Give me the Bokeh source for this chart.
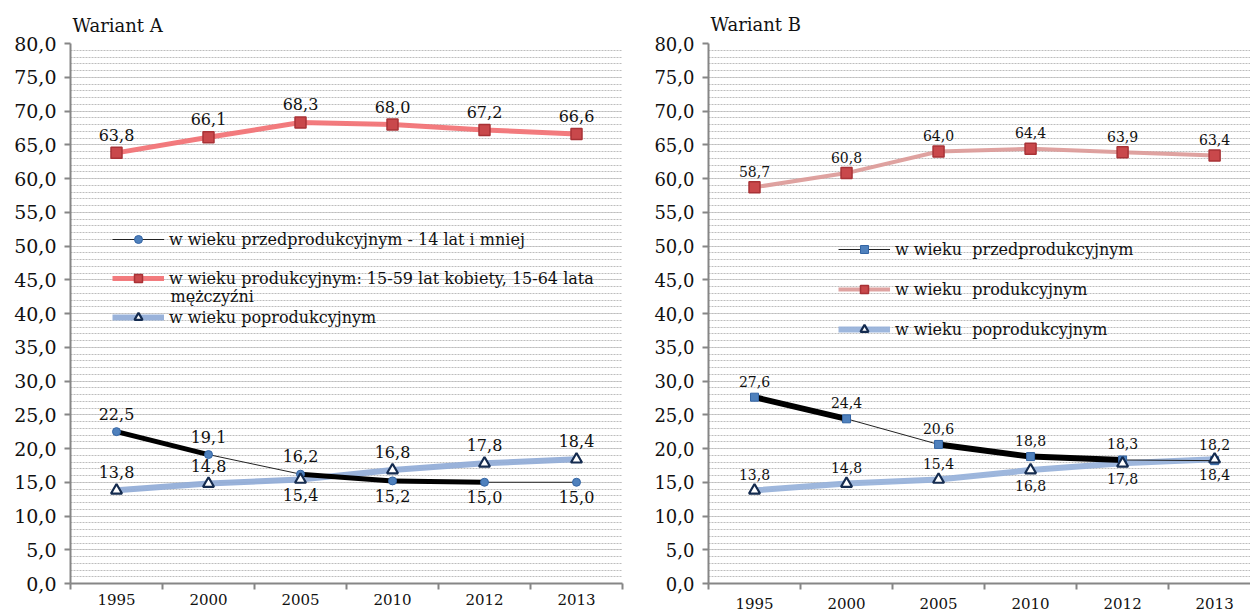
from bokeh.plotting import figure
from bokeh.models import ColumnDataSource, FixedTicker, Legend, LegendItem, Label, Range1d
from bokeh.layouts import row
from bokeh.core.properties import value
from bokeh.embed import file_html
from bokeh.resources import INLINE

# ---------------- data ----------------
years = ["1995", "2000", "2005", "2010", "2012", "2013"]

a_pre = [22.5, 19.1, 16.2, 15.2, 15.0, 15.0]
a_prod = [63.8, 66.1, 68.3, 68.0, 67.2, 66.6]
a_post = [13.8, 14.8, 15.4, 16.8, 17.8, 18.4]

b_pre = [27.6, 24.4, 20.6, 18.8, 18.3, 18.2]
b_prod = [58.7, 60.8, 64.0, 64.4, 63.9, 63.4]
b_post = [13.8, 14.8, 15.4, 16.8, 17.8, 18.4]

y_ticks = [0, 5, 10, 15, 20, 25, 30, 35, 40, 45, 50, 55, 60, 65, 70, 75, 80]

a_names = ["w wieku przedprodukcyjnym - 14 lat i mniej",
           "w wieku produkcyjnym: 15-59 lat kobiety, 15-64 lata",
           "w wieku poprodukcyjnym"]
a_name_cont = "mężczyźni"
b_names = ["w wieku  przedprodukcyjnym",
           "w wieku  produkcyjnym",
           "w wieku  poprodukcyjnym"]

FONT = "DejaVu Serif"


def fmt(v):
    return f"{v:.1f}".replace(".", ",")


def make_panel(title, pre, prod, post, names, cfg):
    xs = list(range(len(years)))
    p = figure(width=cfg["width"], height=612,
               x_range=Range1d(-0.5, cfg["xend"]), y_range=Range1d(0, 80),
               output_backend="svg", toolbar_location=None,
               min_border_left=cfg["bl"], min_border_right=cfg["br"],
               min_border_top=cfg["bt"], min_border_bottom=cfg["bb"])
    p.outline_line_color = None
    p.background_fill_color = "white"
    p.border_fill_color = "white"

    p.title.text = title
    p.title.text_font = FONT
    p.title.text_font_size = "18px"
    p.title.text_font_style = "normal"
    p.title.text_color = "#111111"
    p.title.align = "left"
    p.title.offset = 2
    p.title.standoff = cfg["tstand"]

    # axes
    xa = p.xaxis[0]
    xa.ticker = FixedTicker(ticks=xs, minor_ticks=[i - 0.5 for i in range(len(years) + 1)])
    xa.major_label_overrides = {i: y for i, y in enumerate(years)}
    xa.major_tick_out = 0
    xa.major_tick_in = 0
    xa.minor_tick_out = 6
    xa.minor_tick_in = 0
    xa.minor_tick_line_color = "#868686"
    xa.minor_tick_line_width = 2
    xa.axis_line_color = "#868686"
    xa.axis_line_width = 2
    xa.major_label_standoff = cfg["xstand"]
    xa.major_label_text_font = FONT
    xa.major_label_text_font_size = "15px"
    xa.major_label_text_color = "#111111"

    ya = p.yaxis[0]
    ya.ticker = FixedTicker(ticks=y_ticks, minor_ticks=list(range(0, 81)))
    ya.major_label_overrides = {t: fmt(t) for t in y_ticks}
    ya.major_tick_out = 6
    ya.major_tick_in = 0
    ya.minor_tick_out = 0
    ya.minor_tick_in = 0
    ya.major_tick_line_color = "#868686"
    ya.major_tick_line_width = 2
    ya.axis_line_color = "#868686"
    ya.axis_line_width = 2
    ya.major_label_standoff = 8
    ya.major_label_text_font = FONT
    ya.major_label_text_font_size = cfg["yfs"]
    ya.major_label_text_color = "#111111"

    p.xgrid.visible = False
    p.ygrid.grid_line_color = "#bdbdbd"
    p.ygrid.grid_line_dash = "2 1"
    p.ygrid.grid_line_width = 1
    p.ygrid.minor_grid_line_color = "#bdbdbd"
    p.ygrid.minor_grid_line_dash = "2 1"
    p.ygrid.minor_grid_line_width = 1

    # lines
    r_post_line = p.line(xs, post, line_color=cfg["blue_line"], line_width=6, line_alpha=0.9)
    r_pre_line = p.line(xs, pre, line_color="#222222", line_width=1)
    thick = [0, 1, 2, 3]
    w = cfg["thick"]
    p.segment(x0=[xs[i] for i in thick], y0=[pre[i] for i in thick],
              x1=[xs[i + 1] for i in thick], y1=[pre[i + 1] for i in thick],
              line_color="black", line_width=[w, 0, w, w])
    r_prod_line = p.line(xs, prod, line_color=cfg["red_line"], line_width=cfg["red_w"], line_alpha=0.9)

    # markers
    r_prod_m = p.scatter(xs, prod, marker="square", size=11, fill_color="#c9484b",
                         line_color="#a83236", line_width=1.5)
    r_pre_m = p.scatter(xs, pre, marker=cfg["pre_marker"], size=cfg["pre_size"],
                        fill_color="#4f81bd", line_color="#3465a4", line_width=1)
    r_post_m = p.scatter(xs, post, marker="triangle", size=11, fill_color="white",
                         line_color="#142b4f", line_width=2.2)

    # data labels
    def labels(vals, pos, fs):
        up = [i for i in range(len(vals)) if pos[i] == "a"]
        dn = [i for i in range(len(vals)) if pos[i] == "b"]
        for idx, off in ((up, cfg["off_up"]), (dn, cfg["off_dn"])):
            if not idx:
                continue
            src = ColumnDataSource(dict(x=[xs[i] for i in idx], y=[vals[i] for i in idx],
                                        t=[fmt(vals[i]) for i in idx]))
            p.text(x="x", y="y", text="t", source=src, text_align="center",
                   text_baseline="middle", y_offset=off, text_font=value(FONT),
                   text_font_size=fs, text_color="#111111")

    labels(prod, cfg["prod_pos"], cfg["dfs"])
    labels(pre, cfg["pre_pos"], cfg["dfs"])
    labels(post, cfg["post_pos"], cfg["dfs"])

    legend = Legend(items=[
        LegendItem(label=names[0], renderers=[r_pre_line, r_pre_m]),
        LegendItem(label=names[1], renderers=[r_prod_line, r_prod_m]),
        LegendItem(label=names[2], renderers=[r_post_line, r_post_m]),
    ], location=cfg["leg_loc"])
    legend.background_fill_alpha = 0
    legend.border_line_color = None
    legend.padding = 0
    legend.margin = 0
    legend.spacing = cfg["leg_spacing"]
    legend.glyph_width = 52
    legend.glyph_height = 20
    legend.label_height = 20
    legend.label_standoff = 5
    legend.label_text_font = FONT
    legend.label_text_font_size = cfg["lfs"]
    legend.label_text_color = "#111111"
    p.add_layout(legend)
    return p


cfg_a = dict(width=638, xend=5.5, bl=70, br=16, bt=43, bb=27, xstand=4, tstand=16,
             yfs="19px", dfs="16px", lfs="16px", thick=5,
             off_up=-18, off_dn=15,
             blue_line="#8eaad6", red_line="#f26d70", red_w=5,
             pre_marker="circle", pre_size=8,
             prod_pos=["a"] * 6, pre_pos=["a", "a", "a", "b", "b", "b"],
             post_pos=["a", "a", "b", "a", "a", "a"],
             leg_loc=(42, 256), leg_spacing=19)
cfg_b = dict(width=612, xend=5.39, bl=70, br=0, bt=40, bb=29, xstand=8, tstand=17,
             yfs="18px", dfs="14px", lfs="16px", thick=6,
             off_up=-16, off_dn=15,
             blue_line="#93afd9", red_line="#dc9896", red_w=4,
             pre_marker="square", pre_size=8,
             prod_pos=["a"] * 6, pre_pos=["a"] * 6,
             post_pos=["a", "a", "a", "b", "b", "b"],
             leg_loc=(130, 244), leg_spacing=20)

pa = make_panel("Wariant A", a_pre, a_prod, a_post, a_names, cfg_a)
pa.add_layout(Label(x=100, y=287, x_units="screen", y_units="screen", text=a_name_cont,
                    text_font=FONT, text_font_size="16px", text_baseline="middle",
                    text_color="#111111"))
pb = make_panel("Wariant B", b_pre, b_prod, b_post, b_names, cfg_b)

layout = row(pa, pb)
open("out.html", "w").write(file_html(layout, INLINE))
